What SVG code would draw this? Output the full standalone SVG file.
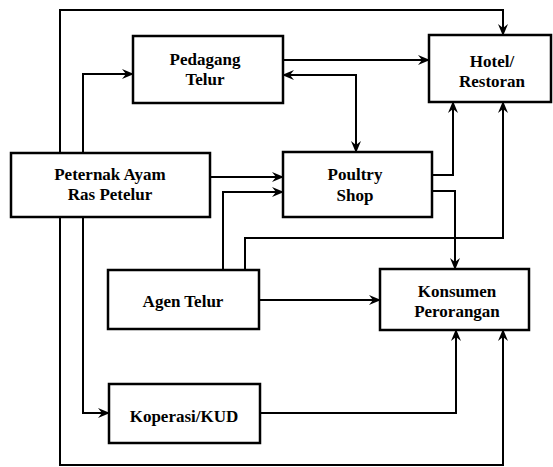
<svg xmlns="http://www.w3.org/2000/svg" width="553" height="467" viewBox="0 0 553 467">
<style>
.box{fill:#fff;stroke:#000;stroke-width:2.5}
.lbl{font-family:Liberation Serif, Times New Roman, serif;font-weight:bold;font-size:17px;text-anchor:middle;fill:#000}
.c{fill:none;stroke:#000;stroke-width:2;marker-end:url(#ah)}
</style>
<defs>
<marker id="ah" markerUnits="userSpaceOnUse" viewBox="0 0 12 10" refX="11" refY="5" markerWidth="12" markerHeight="10" orient="auto-start-reverse">
<path d="M0,0 L12,5 L0,10 L4,5 z" fill="#000"/>
</marker>
</defs>
<rect width="553" height="467" fill="#fff"/>
<g id="connectors">
<path class="c" d="M60,153 V10 H503 V35"/>
<path class="c" d="M83,153 V74 H133"/>
<path class="c" d="M83,217 V413 H109"/>
<path class="c" d="M60,217 V465 H503 V330"/>
<path class="c" d="M210,177 H283"/>
<path class="c" d="M223,270 V192 H283"/>
<path class="c" d="M283,60 H429"/>
<path class="c" d="M283,75 H356 V152" style="marker-start:url(#ah)"/>
<path class="c" d="M432,175 H453 V102"/>
<path class="c" d="M432,191 H455 V269"/>
<path class="c" d="M245,270 V238 H503 V102"/>
<path class="c" d="M259,300 H380"/>
<path class="c" d="M260,413 H456 V330"/>
</g>
<g id="peternak">
<rect class="box" x="11" y="153" width="199" height="64"/>
<text class="lbl" x="110" y="180">Peternak Ayam</text>
<text class="lbl" x="110" y="200">Ras Petelur</text>
</g>
<g id="pedagang">
<rect class="box" x="133" y="36" width="150" height="67"/>
<text class="lbl" x="205" y="65">Pedagang</text>
<text class="lbl" x="205" y="85">Telur</text>
</g>
<g id="hotel">
<rect class="box" x="429" y="35" width="122" height="67"/>
<text class="lbl" x="492" y="67">Hotel/</text>
<text class="lbl" x="492" y="87">Restoran</text>
</g>
<g id="poultry">
<rect class="box" x="283" y="152" width="149" height="65"/>
<text class="lbl" x="355" y="180">Poultry</text>
<text class="lbl" x="355" y="201">Shop</text>
</g>
<g id="agen">
<rect class="box" x="108" y="270" width="151" height="59"/>
<text class="lbl" x="183" y="307">Agen Telur</text>
</g>
<g id="konsumen">
<rect class="box" x="380" y="269" width="149" height="61"/>
<text class="lbl" x="457" y="297">Konsumen</text>
<text class="lbl" x="457" y="317">Perorangan</text>
</g>
<g id="koperasi">
<rect class="box" x="109" y="384" width="151" height="59"/>
<text class="lbl" x="184" y="422">Koperasi/KUD</text>
</g>
</svg>
